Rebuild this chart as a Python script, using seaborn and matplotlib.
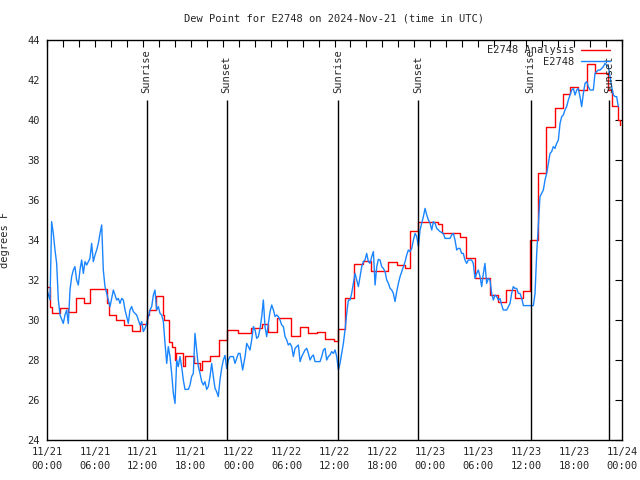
import pandas as pd
import matplotlib
matplotlib.use('Agg')
import matplotlib.pyplot as plt
import matplotlib.dates as mdates
import seaborn as sns

# time offsets are hours after 2024-11-21 00:00 UTC
start = pd.Timestamp('2024-11-21 00:00')

obs_hours = [
    0.0, 0.38, 0.58, 0.79, 1.0, 1.21, 1.42, 1.63, 2.04, 2.25, 2.46, 2.67, 2.88, 3.09, 3.3, 3.5,
    3.71, 3.92, 4.13, 4.34, 4.55, 4.76, 4.97, 5.18, 5.38, 5.59, 5.8, 6.01, 6.22, 6.43, 6.64, 6.85,
    7.05, 7.26, 7.47, 7.68, 7.89, 8.1, 8.31, 8.52, 8.72, 8.93, 9.14, 9.35, 9.56, 9.77, 9.98, 10.18,
    10.39, 10.6, 10.81, 11.02, 11.23, 11.44, 11.65, 11.86, 12.06, 12.27, 12.48, 12.69, 12.9, 13.11,
    13.32, 13.52, 13.73, 13.94, 14.15, 14.36, 14.57, 14.78, 14.99, 15.19, 15.4, 15.61, 15.82, 16.03,
    16.24, 16.44, 16.65, 16.86, 17.07, 17.28, 17.49, 17.7, 17.91, 18.11, 18.32, 18.53, 18.74, 18.95,
    19.16, 19.37, 19.58, 19.78, 19.99, 20.2, 20.41, 20.62, 20.83, 21.04, 21.24, 21.45, 21.66, 21.87,
    22.08, 22.29, 22.5, 22.71, 22.92, 23.33, 23.54, 23.96, 24.17, 24.5, 24.8, 25.01, 25.22, 25.42,
    25.63, 25.84, 26.05, 26.26, 26.47, 26.68, 26.89, 27.09, 27.3, 27.51, 27.72, 27.93, 28.14, 28.35,
    28.56, 28.76, 28.97, 29.18, 29.39, 29.6, 29.81, 30.02, 30.22, 30.43, 30.64, 30.85, 31.06, 31.27,
    31.48, 31.69, 31.89, 32.1, 32.31, 32.52, 32.73, 32.94, 33.15, 33.36, 33.56, 33.77, 33.98, 34.19,
    34.4, 34.61, 34.82, 35.02, 35.23, 35.44, 35.65, 35.86, 36.07, 36.28, 36.49, 36.69, 36.9, 37.11,
    37.32, 37.53, 37.74, 37.95, 38.15, 38.36, 38.57, 38.78, 38.99, 39.2, 39.41, 39.62, 39.82, 40.03,
    40.24, 40.45, 40.66, 40.87, 41.08, 41.29, 41.49, 41.7, 41.91, 42.12, 42.33, 42.54, 42.75, 42.96,
    43.17, 43.37, 43.58, 43.79, 44.0, 44.21, 44.42, 44.63, 44.84, 45.04, 45.25, 45.46, 45.67, 45.88,
    46.09, 46.3, 46.51, 46.71, 46.92, 47.13, 47.34, 47.55, 47.76, 47.97, 48.18, 48.38, 48.59, 48.8,
    49.01, 49.21, 49.63, 49.84, 50.46, 50.67, 50.88, 51.09, 51.3, 51.5, 51.71, 51.92, 52.13, 52.34,
    52.55, 52.76, 52.97, 53.17, 53.38, 53.59, 53.8, 54.01, 54.22, 54.43, 54.64, 54.84, 55.05, 55.26,
    55.47, 55.68, 55.89, 56.1, 56.31, 56.51, 56.72, 56.93, 57.14, 57.35, 57.56, 57.77, 57.98, 58.18,
    58.39, 58.6, 58.81, 59.02, 59.23, 59.44, 59.65, 60.06, 60.48, 60.9, 61.11, 61.32, 61.52, 61.73,
    61.94, 62.15, 62.36, 62.57, 62.78, 62.99, 63.19, 63.4, 63.61, 63.82, 64.03, 64.24, 64.45, 64.65,
    64.86, 65.07, 65.28, 65.49, 65.7, 65.91, 66.12, 66.33, 66.53, 66.74, 66.95, 67.16, 67.37, 67.58,
    67.79, 68.0, 68.41, 68.62, 68.83, 69.04, 69.25, 69.46, 69.67, 69.87, 70.08, 70.29, 70.5, 70.71,
    70.92, 71.13, 71.33, 71.54,
]
obs_dewpt = [
    31.5, 31.0, 34.92, 34.33, 33.5, 32.83, 31.0, 30.25, 29.83, 30.25, 30.5, 29.83, 31.5, 32.17, 32.5, 32.67,
    32.0, 31.75, 32.5, 33.0, 32.33, 32.92, 32.75, 32.92, 33.08, 33.83, 32.92, 33.25, 33.5, 33.83, 34.33, 34.75,
    32.5, 31.67, 31.33, 31.0, 30.67, 31.08, 31.5, 31.25, 31.0, 31.08, 30.83, 31.08, 31.0, 30.5, 30.17, 29.83,
    30.5, 30.67, 30.42, 30.33, 30.25, 30.0, 29.75, 29.92, 29.42, 29.58, 29.83, 30.17, 30.5, 30.67,
    31.25, 31.5, 30.5, 30.67, 30.33, 30.25, 29.92, 28.83, 27.83, 28.67, 28.17, 27.33, 26.33, 25.83,
    28.0, 27.67, 28.17, 27.67, 27.0, 26.53, 26.53, 26.53, 26.75, 27.17, 27.33, 29.33, 28.5, 27.67,
    27.33, 26.92, 26.75, 26.92, 26.53, 26.67, 27.17, 27.83, 27.17, 26.58, 26.42, 26.17, 27.0, 27.58,
    28.0, 28.23, 27.58, 28.0, 28.17, 28.17, 27.83, 28.33, 28.33, 27.5, 28.17, 28.83, 28.67, 28.5,
    29.0, 29.67, 29.5, 29.08, 29.17, 29.58, 30.17, 31.0, 29.67, 29.17, 29.83, 30.42, 30.75, 30.5,
    30.17, 30.25, 30.17, 30.0, 29.75, 29.67, 29.17, 29.0, 28.75, 28.83, 28.67, 28.17, 28.58, 28.67,
    28.75, 27.92, 28.17, 28.33, 28.5, 28.58, 28.33, 28.0, 28.17, 28.25, 27.92, 27.92, 27.92, 27.92,
    28.17, 28.5, 28.58, 28.0, 28.17, 28.25, 28.42, 28.33, 28.5, 28.17, 27.5, 27.83, 28.33, 28.83,
    29.5, 30.33, 31.0, 31.0, 31.33, 31.83, 32.33, 32.0, 31.67, 32.17, 32.67, 32.92, 33.0, 33.33,
    32.92, 32.83, 33.17, 33.42, 31.75, 32.67, 33.03, 33.0, 32.67, 32.58, 32.42, 32.0, 31.83, 31.58,
    31.5, 31.33, 30.92, 31.42, 31.83, 32.17, 32.42, 32.67, 32.92, 33.25, 33.5, 33.42, 33.58, 34.0,
    34.33, 34.17, 33.67, 34.5, 34.83, 35.17, 35.58, 35.25, 35.0, 34.83, 34.5, 34.92, 34.83, 34.58,
    34.5, 34.42, 34.33, 34.08, 34.08, 34.25, 34.33, 34.0, 33.5, 33.58, 33.58, 33.33, 33.33, 33.0,
    32.83, 33.0, 33.0, 33.0, 32.83, 32.08, 32.33, 32.5, 32.17, 31.67, 32.33, 32.83, 31.83, 32.08,
    32.0, 31.33, 31.0, 31.25, 31.17, 31.0, 31.08, 30.75, 30.5, 30.5, 30.5, 30.67, 30.83, 31.33,
    31.67, 31.58, 31.58, 31.33, 31.33, 31.08, 30.72, 30.72, 30.72, 30.72, 31.33, 33.33, 34.67, 36.17,
    36.33, 36.5, 37.0, 37.33, 37.83, 38.33, 38.42, 38.67, 38.58, 38.83, 39.0, 39.83, 40.17, 40.25,
    40.5, 40.67, 41.0, 41.25, 41.5, 41.58, 41.25, 41.5, 41.58, 41.17, 40.67, 41.33, 41.83, 41.92,
    41.67, 41.5, 41.5, 42.33, 42.42, 42.5, 42.5, 42.58, 42.67, 42.83, 42.75, 42.67, 42.17, 41.67,
    41.25, 41.17, 41.17, 40.67,
]

ana_hours = [
    0.0, 0.4, 0.6, 1.6, 2.6, 3.6, 4.6, 5.4, 7.5, 7.8, 8.6, 9.7, 10.6, 11.6, 12.5, 12.8, 13.6, 14.5,
    14.7, 15.3, 15.6, 16.0, 16.2, 17.0, 17.3, 18.4, 19.2, 19.4, 20.4, 21.5, 22.6, 23.9, 25.6, 26.9,
    27.7, 28.8, 30.6, 31.7, 32.7, 33.8, 34.8, 35.9, 36.5, 37.3, 38.5, 39.6, 40.6, 42.7, 43.8, 44.8,
    45.5, 46.5, 49.0, 49.4, 51.7, 52.5, 53.6, 55.5, 56.5, 57.5, 58.6, 59.6, 60.5, 61.5, 62.5, 63.6,
    64.6, 65.5, 66.5, 67.6, 68.6, 70.3, 70.7, 71.5, 71.75,
]
ana_dewpt = [
    31.67, 30.67, 30.33, 30.58, 30.42, 31.08, 30.83, 31.53, 30.83, 30.25, 30.0, 29.75, 29.45, 29.8,
    30.25, 30.5, 31.2, 30.25, 30.0, 28.9, 28.65, 28.0, 28.35, 27.7, 28.2, 27.85, 27.5, 27.95, 28.2,
    29.0, 29.5, 29.37, 29.62, 29.8, 29.38, 30.12, 29.2, 29.63, 29.33, 29.42, 29.05, 28.95, 29.55,
    31.08, 32.8, 32.97, 32.47, 32.88, 32.75, 32.58, 34.43, 34.92, 34.8, 34.37, 34.13, 33.08, 32.08,
    31.25, 30.92, 31.5, 31.08, 31.47, 34.0, 37.33, 39.67, 40.58, 41.28, 41.67, 41.5, 42.78, 42.37,
    41.5, 40.7, 40.0, 39.75,
]

sun_events = ['Sunrise', 'Sunset', 'Sunrise', 'Sunset', 'Sunrise', 'Sunset']
sun_times = ['2024-11-21 12:29', '2024-11-21 22:30', '2024-11-22 12:29',
             '2024-11-22 22:30', '2024-11-23 12:33', '2024-11-23 22:25']

obs = pd.DataFrame({'time': start + pd.to_timedelta(obs_hours, unit='h'), 'dewpt': obs_dewpt})
ana = pd.DataFrame({'time': start + pd.to_timedelta(ana_hours, unit='h'), 'dewpt': ana_dewpt})

sns.set_style('white')
plt.rcParams['font.family'] = ['DejaVu Sans Mono']
fs = 7.5

fig = plt.figure(figsize=(6.4, 4.8), dpi=100)
ax = fig.add_axes([47 / 640, 40 / 480, 575 / 640, 400 / 480])

sns.lineplot(data=ana, x='time', y='dewpt', color='#ff0000', lw=1.0, drawstyle='steps-post',
             estimator=None, sort=False, label='E2748 Analysis', ax=ax)
sns.lineplot(data=obs, x='time', y='dewpt', color='#1a85ff', lw=1.0,
             estimator=None, sort=False, label='E2748', ax=ax)

for name, ts in zip(sun_events, sun_times):
    t = pd.Timestamp(ts)
    ax.vlines(t, 24, 41, color='black', lw=1.0)
    ax.text(t, 41.35, name, rotation=90, ha='center', va='bottom', fontsize=fs)

ax.set_xlim(start, start + pd.Timedelta(hours=72))
ax.set_ylim(24, 44)
ax.set_yticks(range(24, 45, 2))
ax.xaxis.set_major_locator(mdates.HourLocator(byhour=[0, 6, 12, 18]))
ax.xaxis.set_minor_locator(mdates.HourLocator(byhour=range(0, 24, 2)))
ax.xaxis.set_major_formatter(mdates.DateFormatter('%m/%d\n%H:%M'))

ax.tick_params(axis='both', which='both', direction='in', top=True, right=True,
               length=5, width=0.8, color='black', labelsize=fs)
ax.tick_params(axis='x', pad=5)
ax.tick_params(axis='y', pad=5)
for s in ax.spines.values():
    s.set_color('black')
    s.set_linewidth(1.0)

ax.set_title('Dew Point for E2748 on 2024-Nov-21 (time in UTC)', fontsize=fs, pad=13)
ax.set_xlabel('')
ax.set_ylabel('degrees F', fontsize=fs)
ax.yaxis.set_label_coords(-0.064, 0.5)

ax.legend(loc='upper right', bbox_to_anchor=(1 - 8 / 575, 1 - 1 / 400), frameon=False,
          markerfirst=False, fontsize=fs, handlelength=2.8, labelspacing=0.15,
          borderaxespad=0, handletextpad=0.6)

fig.canvas.draw()
for lab in ax.get_xticklabels():
    lab.set_linespacing(1.5)

fig.savefig('out.png', dpi=100)
plt.close(fig)
